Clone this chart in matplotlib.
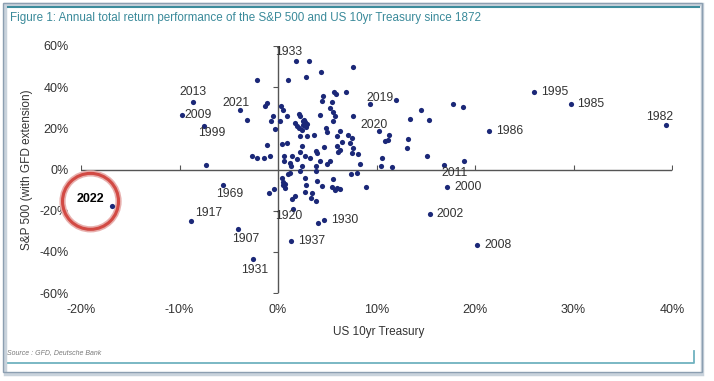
import matplotlib
matplotlib.use('Agg')
import matplotlib.pyplot as plt
from matplotlib.patches import Ellipse, Rectangle
from matplotlib.lines import Line2D

# labelled years: US 10yr Treasury total return (%), S&P 500 total return (%)
years = ['1933', '2013', '2009', '1999', '2021', '2019', '2020', '1995',
         '1985', '1982', '1986', '2011', '2000', '2002', '2008', '1969',
         '1917', '1907', '1931', '1937', '1930', '1920']
yr_tsy = [1.8, -8.6, -9.7, -7.5, -3.9, 9.3, 10.3, 26.0,
          29.7, 39.4, 21.4, 16.9, 17.2, 15.4, 20.2, -5.6,
          -8.8, -4.1, -2.5, 1.3, 4.7, 1.5]
yr_spx = [52.7, 32.9, 26.6, 21.3, 29.0, 31.9, 18.8, 37.7,
          31.9, 21.7, 18.8, 2.4, -8.7, -21.7, -36.7, -7.7,
          -25.0, -29.0, -43.5, -34.8, -24.6, -19.3]

# 2022, highlighted
tsy_2022 = -16.9
spx_2022 = -17.9

# all other years (unlabelled)
tsy = [-2.1, -3.1, -1.3, -1.1, -0.7, -0.5, -0.3, 0.3, 0.5, 0.2, 0.9, 1.0,
       3.1, 2.8, 4.4, 7.6, 5.7, 5.9, 6.9, 4.6, 4.5, 5.5, 5.3, 5.6, 2.1, 2.2,
       12.0, 7.6, 14.5, 13.4, 15.3, 17.8, 18.8,
       1.7, 1.9, 2.1, 2.4, 2.5, 2.7, 2.8, 2.9, 2.5, 2.6,
       2.2, 2.9, 4.3, 3.7, 4.9, 5.0, 5.6, 6.0, 5.8, 4.7, 3.9, 4.0, 2.4, 2.2,
       2.7, 3.2, 1.9, 1.4, 0.6, 0.6, 1.2, 2.4, 3.9, 4.3, 5.0, 5.3,
       0.4, 0.9, -1.1, -2.6, -2.1, -1.4, -0.8, -7.3, 6.0, 6.1,
       6.3, 7.1, 7.5, 6.5, 7.3, 7.6, 7.5, 8.1, 8.3, 6.3,
       11.3, 10.9, 11.2, 13.2, 13.1, 15.1, 10.6, 10.5, 11.6, 18.9,
       1.3, 2.2, 3.9, 7.4, 8.0, 8.9,
       -0.9, -0.4, 0.4, 0.5, 0.7, 1.0, 1.2, 0.7, 0.5,
       2.7, 2.8, 4.0, 4.5, 2.7, 3.5, 3.4, 3.9, 1.4, 1.7,
       5.6, 5.5, 6.0, 5.8, 6.3, 4.1]
spx = [43.5, 24.0, 31.0, 32.4, 23.8, 25.8, 19.8, 31.0, 29.0, 23.7, 26.0, 43.5,
       52.7, 45.0, 47.3, 49.8, 37.7, 36.7, 37.7, 35.7, 33.3, 32.9, 30.0, 28.0, 27.0, 26.0,
       33.8, 26.0, 29.0, 24.6, 24.0, 31.9, 30.4,
       22.7, 21.3, 20.3, 19.3, 21.7, 23.2, 20.8, 22.2, 23.5, 24.2,
       16.4, 16.4, 26.6, 16.9, 20.3, 18.4, 23.7, 16.4, 26.0, 11.1, 9.2, 8.2, 11.6, 8.7,
       6.8, 5.8, 5.3, 6.8, 6.8, 4.3, 3.4, 1.9, 1.9, 3.9, 2.9, 3.9,
       12.6, 13.0, 12.0, 6.8, 5.8, 5.8, 6.8, 2.0, 11.6, 8.7,
       18.8, 16.9, 15.5, 13.5, 13.0, 10.6, 8.2, 7.7, 2.9, 9.7,
       16.9, 14.0, 14.5, 15.0, 10.6, 6.8, 5.8, 1.9, 1.0, 4.3,
       1.9, -0.5, -0.5, -2.4, -1.9, -8.7,
       -11.6, -9.7, -4.3, -6.3, -7.2, -2.4, -1.9, -9.2, -7.7,
       -4.3, -7.5, -5.8, -8.2, -11.1, -11.6, -14.0, -15.5, -14.5, -13.0,
       -4.8, -8.7, -9.2, -10.1, -9.7, -26.0]

x_ticks = [-20, -10, 0, 10, 20, 30, 40]
y_ticks = [-60, -40, -20, 0, 20, 40, 60]

# label placement, in pixels from the point: (dx, dy, ha)
offs = {
    '1933': (-7, 9, 'center'), '2013': (0, 10, 'center'),
    '2009': (2, 0, 'left'), '1999': (8, -7, 'center'),
    '2021': (-4, 7, 'center'), '2019': (10, 6, 'center'),
    '2020': (-5, 6, 'center'), '1995': (7, 0, 'left'),
    '1985': (7, 0, 'left'), '1982': (-6, 8, 'center'),
    '1986': (7, 0, 'left'), '2011': (10, -8, 'center'),
    '2000': (7, 0, 'left'), '2002': (7, 0, 'left'),
    '2008': (7, 0, 'left'), '1969': (7, -9, 'center'),
    '1917': (4, 8, 'left'), '1907': (8, -10, 'center'),
    '1931': (1, -11, 'center'), '1937': (7, 0, 'left'),
    '1930': (7, 0, 'left'), '1920': (-4, -7, 'center'),
}

W, H = 714, 381
fig = plt.figure(figsize=(W / 100, H / 100), dpi=100)
fig.patch.set_facecolor('white')

def fx(px):
    return px / W

def fy(py):
    return 1 - py / H

# frame around the exhibit
fig.add_artist(Rectangle((fx(5), fy(374)), fx(702) - fx(5), fy(4) - fy(374),
                         transform=fig.transFigure, fill=False,
                         edgecolor='#c9d3dc', lw=2.5))
fig.add_artist(Rectangle((fx(3), fy(372)), fx(702) - fx(3), fy(3) - fy(372),
                         transform=fig.transFigure, fill=False,
                         edgecolor='#8c9fb1', lw=1.0))
fig.add_artist(Line2D([fx(8), fx(699)], [fy(7), fy(7)], transform=fig.transFigure,
                      color='#3d8c9c', lw=1.5))
fig.add_artist(Line2D([fx(8), fx(694), fx(694)], [fy(363), fy(363), fy(351)],
                      transform=fig.transFigure, color='#6fb2bf', lw=1.3))

font = ['Liberation Sans', 'DejaVu Sans']

fig.text(fx(10), fy(18.5), 'Figure 1: Annual total return performance of the S&P 500 '
         'and US 10yr Treasury since 1872', color='#3a8a9a', fontsize=8.4,
         family=font, va='center', ha='left')
fig.text(fx(7), fy(353), 'Source : GFD, Deutsche Bank', color='#7a7a7a', fontsize=5,
         style='italic', family=font, va='center')

ax = fig.add_axes([fx(81), fy(293), fx(672) - fx(81), fy(46) - fy(293)])
ax.set_xlim(-20, 40)
ax.set_ylim(-60, 60)
ax.patch.set_alpha(0)
for s in ax.spines.values():
    s.set_visible(False)

ax.set_xticks(x_ticks)
ax.set_xticklabels([f'{v}%' for v in x_ticks])
ax.set_yticks(y_ticks)
ax.set_yticklabels([f'{v}%' for v in y_ticks])
ax.tick_params(length=0, labelsize=9, colors='#333333')
ax.tick_params(axis='x', pad=8)
ax.tick_params(axis='y', pad=9)
for t in ax.get_xticklabels() + ax.get_yticklabels():
    t.set_family(font)

ax.set_xlabel('US 10yr Treasury', fontsize=8.5, color='#333333', family=font)
ax.set_ylabel('S&P 500 (with GFD extension)', fontsize=8.5, color='#333333',
              family=font)
ax.xaxis.set_label_coords(0.503, -0.134)
ax.yaxis.set_label_coords(-0.081, 0.5)

# axes through the origin
ax.plot([-20, 40], [0, 0], color='#555555', lw=1.0, zorder=1)
ax.plot([0, 0], [-60, 60], color='#555555', lw=1.0, zorder=1)
ax.plot([v for v in x_ticks if v != 0], [0] * 6, ls='none', marker=2, ms=3.5,
        mew=0.8, color='#555555', zorder=1)
ax.plot([0] * 6, [v for v in y_ticks if v != 0], ls='none', marker=0, ms=3.5,
        mew=0.8, color='#555555', zorder=1)

dot = '#1b2878'
ax.scatter(tsy, spx, s=14, color=dot, zorder=3, linewidths=0)
ax.scatter(yr_tsy, yr_spx, s=14, color=dot, zorder=3, linewidths=0)
ax.scatter([tsy_2022], [spx_2022], s=14, color=dot, zorder=3, linewidths=0)

for yr, xv, yv in zip(years, yr_tsy, yr_spx):
    dx, dy, ha = offs[yr]
    ax.annotate(yr, (xv, yv), xytext=(dx, dy), textcoords='offset pixels',
                ha=ha, va='center', fontsize=8.8, color='#333333', family=font,
                zorder=4)

ax.annotate('2022', (tsy_2022, spx_2022), xytext=(-21, 7), textcoords='offset pixels',
            ha='center', va='center', fontsize=9, fontweight='bold', color='black',
            family=font, zorder=4)

# red ring round 2022 (radius ~28 px)
cx = tsy_2022 - 21 / 9.85
cy = spx_2022 + 5 / 2.06
ax.add_patch(Ellipse((cx, cy), 56 / 9.85, 56 / 2.06, fill=False,
                     edgecolor='#e8b0ae', lw=4.5, clip_on=False, zorder=2))
ax.add_patch(Ellipse((cx, cy), 56 / 9.85, 56 / 2.06, fill=False,
                     edgecolor='#d24a44', lw=2.2, clip_on=False, zorder=2))

fig.savefig('out.png', dpi=100)
